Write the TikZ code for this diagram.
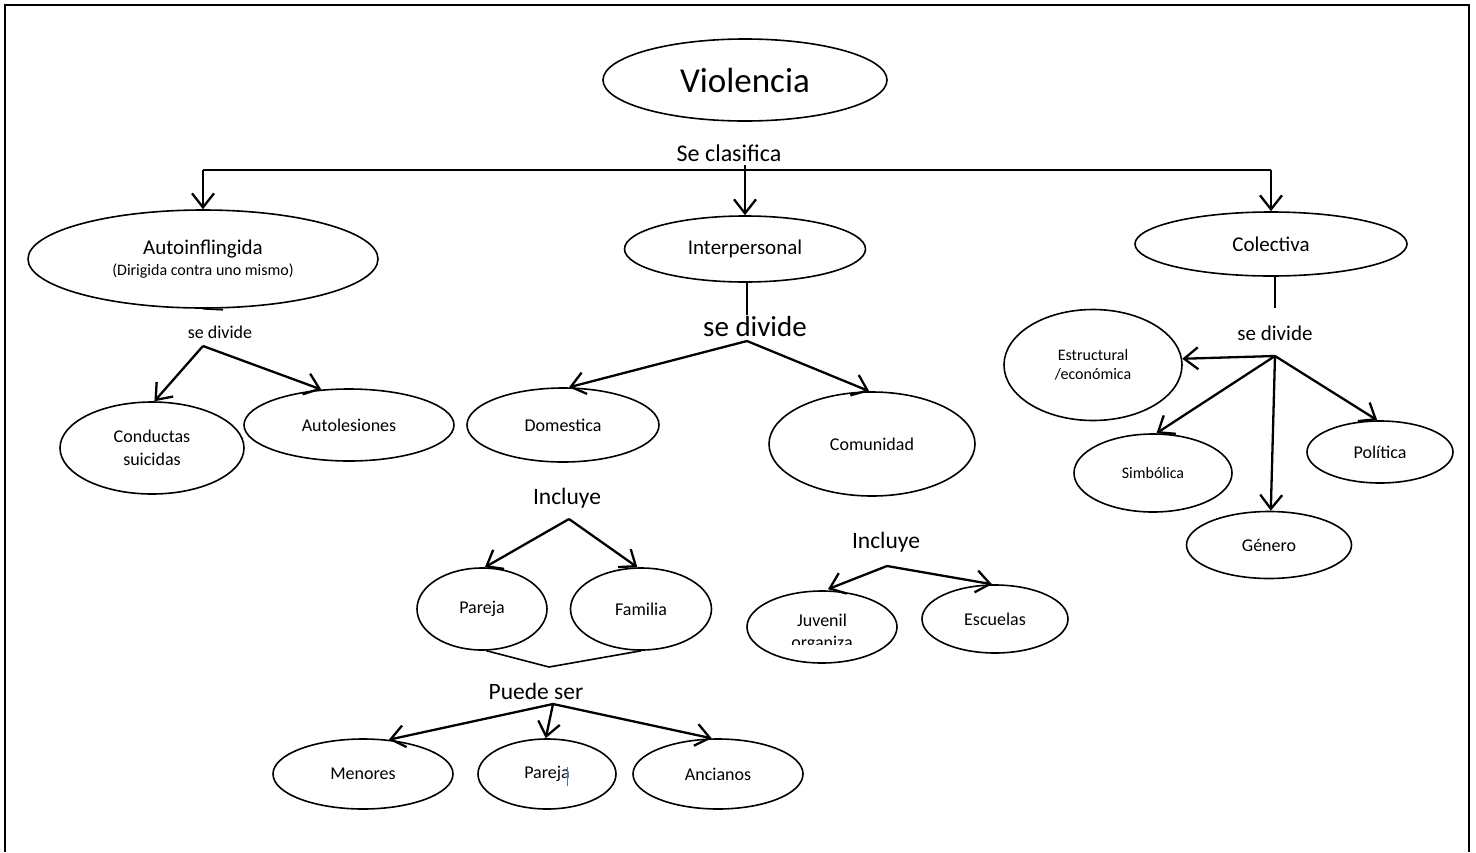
\documentclass[tikz,border=0pt]{standalone}
\usepackage{fontspec}
\setmainfont{Carlito}
\usetikzlibrary{shapes.geometric,arrows.meta}
\definecolor{cursorblue}{HTML}{4472C4}
\begin{document}
\begin{tikzpicture}[x=1pt,y=-1pt,
  ell/.style={draw,ellipse,line width=1.6pt,inner sep=0pt,align=center},
  lab/.style={inner sep=0pt,align=center},
  arr/.style={line width=2.3pt,-{Straight Barb[length=14pt,width=22pt,line width=2.3pt]}},
  ln/.style={line width=1.6pt}]
\useasboundingbox (0,0) rectangle (1476,852);
\draw[line width=1.2pt] (5,852) -- (5,5) -- (1469,5) -- (1469,852);

% top
\node[ell,minimum width=284pt,minimum height=82pt,font=\fontsize{35}{42}\selectfont] (vio) at (745,80) {Violencia};
\node[lab,font=\fontsize{24}{29}\selectfont] (clas) at (729,153) {Se clasifica};
\coordinate (hl) at (203,170);
\coordinate (hr) at (1271,170);
\coordinate (hm) at (745,165);
\draw[ln] (hl) -- (hr);

% level 1
\node[ell,minimum width=350pt,minimum height=98pt] (auto) at (203,259)
  {{\fontsize{21}{23}\selectfont Autoinflingida}\\[5pt]{\fontsize{16}{19}\selectfont (Dirigida contra uno mismo)}};
\node[ell,minimum width=241pt,minimum height=66pt,font=\fontsize{21}{25}\selectfont] (inter) at (745,249) {Interpersonal};
\node[ell,minimum width=272pt,minimum height=64pt,font=\fontsize{21}{25}\selectfont] (col) at (1271,244) {Colectiva};
\draw[arr] (hl) -- (auto.north);
\draw[arr] (hm) -- (inter.north);
\draw[arr] (hr) -- (col.north);

% left branch
\draw[ln] (auto.south) -- ++(20,1);
\node[lab,font=\fontsize{18}{22}\selectfont] (sd1) at (220,332) {se divide};
\coordinate (s1) at (203,346);
\node[ell,minimum width=184pt,minimum height=92pt,font=\fontsize{18}{23}\selectfont] (cond) at (152,448) {Conductas\\suicidas};
\node[ell,minimum width=210pt,minimum height=72pt,font=\fontsize{18}{22}\selectfont] (autol) at (349,425) {Autolesiones};
\draw[arr] (s1) -- (cond.87);
\draw[arr] (s1) -- (autol.128);

% middle branch
\coordinate (i1) at (747,315);
\draw[ln] (inter.south -| i1) -- (i1);
\node[lab,font=\fontsize{29}{35}\selectfont] (sd2) at (755,327) {se divide};
\coordinate (s2) at (747,341);
\node[ell,minimum width=192pt,minimum height=74pt,font=\fontsize{18}{22}\selectfont] (dom) at (563,425) {Domestica};
\node[ell,minimum width=206pt,minimum height=104pt,font=\fontsize{18}{22}\selectfont] (com) at (872,444) {Comunidad};
\draw[arr] (s2) -- (dom.81);
\draw[arr] (s2) -- (com.93);

% Domestica sub
\node[lab,font=\fontsize{23.5}{28}\selectfont] (inc1) at (567,498) {Incluye};
\coordinate (s3) at (569,519);
\node[ell,minimum width=130pt,minimum height=82pt,font=\fontsize{18}{22}\selectfont] (par) at (482,609) {Pareja};
\node[ell,minimum width=141pt,minimum height=82pt,font=\fontsize{18}{22}\selectfont] (fam) at (641,609) {Familia};
\draw[arr] (s3) -- (par.86);
\draw[arr] (s3) -- (fam.95);
\coordinate (vb) at (549,667);
\draw[ln] (par.-84) -- (vb) -- (fam.south);

\node[lab,font=\fontsize{23.5}{28}\selectfont] (ps) at (536,691) {Puede ser};
\coordinate (s4) at (553,704);
\node[ell,minimum width=180pt,minimum height=70pt,font=\fontsize{18}{22}\selectfont] (men) at (363,774) {Menores};
\node[ell,minimum width=138pt,minimum height=70pt,font=\fontsize{18}{22}\selectfont] (par2) at (547,774) {Pareja};
\node[ell,minimum width=170pt,minimum height=70pt,font=\fontsize{18}{22}\selectfont] (anc) at (718,774) {Ancianos};
\draw[arr] (s4) -- (men.53);
\draw[arr] (s4) -- (par2.92);
\draw[arr] (s4) -- (anc.100);
\draw[cursorblue,line width=1pt] (567,767) -- (567,786);

% Comunidad sub
\node[lab,font=\fontsize{23.5}{28}\selectfont] (inc2) at (886,542) {Incluye};
\coordinate (s5) at (887,566);
\node[ell,minimum width=150pt,minimum height=72pt] (juv) at (822,627) {};
\node[lab,font=\fontsize{18}{22}\selectfont,anchor=base] (juvt) at (822,626) {Juvenil};
\begin{scope}
  \clip (748,600) rectangle (896,644.5);
  \node[lab,font=\fontsize{18}{22}\selectfont,anchor=base] (juvo) at (822,648) {organiza};
\end{scope}
\node[ell,minimum width=146pt,minimum height=68pt,font=\fontsize{18}{22}\selectfont] (esc) at (995,619) {Escuelas};
\draw[arr,shorten >=3pt] (s5) -- (juv.85);
\draw[arr] (s5) -- (esc.95);

% right branch
\coordinate (c1) at (1275,308);
\draw[ln] (col.south -| c1) -- (c1);
\node[lab,font=\fontsize{21}{25}\selectfont] (sd3) at (1275,333) {se divide};
\coordinate (s6) at (1275,356);
\node[ell,minimum width=178pt,minimum height=111pt,font=\fontsize{16}{19}\selectfont] (estr) at (1093,365) {Estructural\\/económica};
\node[ell,minimum width=158pt,minimum height=78pt,font=\fontsize{16}{19}\selectfont] (simb) at (1153,473) {Simbólica};
\node[ell,minimum width=146pt,minimum height=62pt,font=\fontsize{18}{22}\selectfont] (pol) at (1380,452) {Política};
\node[ell,minimum width=165pt,minimum height=67pt,font=\fontsize{18}{22}\selectfont] (gen) at (1269,545) {Género};
\draw[arr] (s6) -- (estr.4);
\draw[arr] (s6) -- (simb.85);
\draw[arr] (s6) -- (gen.87);
\draw[arr] (s6) -- (pol.95);
\end{tikzpicture}
\end{document}
